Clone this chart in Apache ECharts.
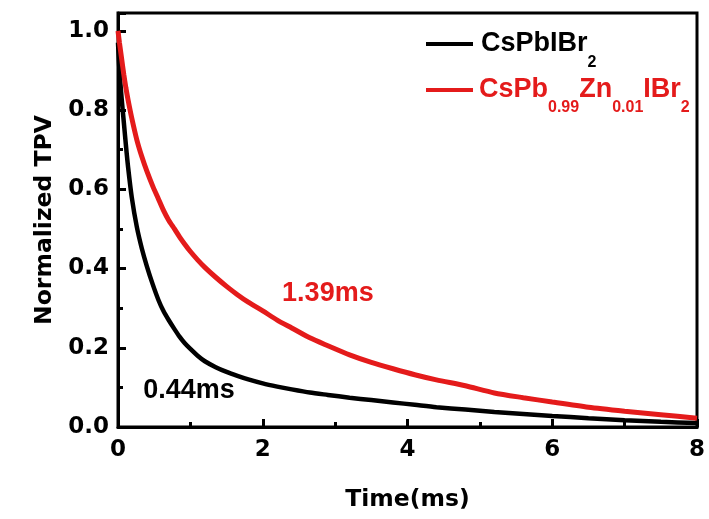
<!DOCTYPE html>
<html>
<head>
<meta charset="utf-8">
<script src="https://cdn.jsdelivr.net/npm/echarts@6/dist/echarts.min.js"></script>
<style>
  html, body { margin: 0; padding: 0; background: #fff; }
  #chart { width: 709px; height: 519px; }
</style>
</head>
<body>
<div id="chart"></div>
<script>
// Transient photovoltage decay, normalized
const timeMs = [0, 0.02, 0.05, 0.08, 0.11, 0.14, 0.19, 0.26, 0.33, 0.4, 0.48, 0.56, 0.63, 0.7, 0.78, 0.85, 0.92, 1.0, 1.1, 1.2, 1.35, 1.5, 1.65, 1.8, 2.0, 2.2, 2.4, 2.65, 2.9, 3.2, 3.5, 3.8, 4.1, 4.4, 4.8, 5.2, 5.6, 6.0, 6.5, 7.0, 7.5, 8.0];
const tpvPristine = [0.97, 0.9, 0.83, 0.77, 0.71, 0.655, 0.58, 0.505, 0.45, 0.405, 0.36, 0.32, 0.292, 0.27, 0.247, 0.228, 0.212, 0.197, 0.18, 0.166, 0.151, 0.139, 0.129, 0.12, 0.11, 0.102, 0.095, 0.087, 0.081, 0.074, 0.068, 0.062, 0.056, 0.05, 0.044, 0.038, 0.033, 0.028, 0.022, 0.017, 0.013, 0.01];
const tpvZnDoped = [1.0, 0.97, 0.93, 0.89, 0.855, 0.825, 0.78, 0.725, 0.682, 0.645, 0.608, 0.575, 0.546, 0.522, 0.5, 0.48, 0.462, 0.443, 0.422, 0.403, 0.378, 0.355, 0.334, 0.315, 0.293, 0.27, 0.25, 0.225, 0.205, 0.182, 0.163, 0.147, 0.132, 0.119, 0.104, 0.086, 0.074, 0.063, 0.05, 0.04, 0.031, 0.022];

const seriesNames = ['CsPbIBr2', 'CsPb0.99Zn0.01IBr2'];
const lifetimeLabels = ['0.44ms', '1.39ms'];
const lifetimeAnchors = [[0.98, 0.091], [2.9, 0.337]];
const xTicks = [0, 2, 4, 6, 8];
const yTicks = [0.0, 0.2, 0.4, 0.6, 0.8, 1.0];

const RED = '#e41b1b';
const tickFont = { fontFamily: 'DejaVu Sans', fontWeight: 'bold', fontSize: 23, color: '#000' };
const nameFont = { fontFamily: 'DejaVu Sans', fontWeight: 'bold', fontSize: 23.5, color: '#000' };
const labelFamily = 'Liberation Sans, Arial, sans-serif';

function pairs(ys) { return timeMs.map((t, i) => [t, ys[i]]); }

const chart = echarts.init(document.getElementById('chart'), null, { renderer: 'canvas' });

chart.setOption({
  backgroundColor: '#fff',
  animation: false,
  grid: {
    left: 118, right: 12, top: 13, bottom: 92,
    show: true, borderColor: '#000', borderWidth: 3,
    outerBoundsMode: 'none'
  },
  legend: {
    orient: 'vertical',
    left: 421, top: 24,
    itemGap: 4,
    icon: 'rect',
    itemWidth: 47, itemHeight: 4,
    data: seriesNames,
    formatter: function (name) {
      if (name === seriesNames[0]) return '{k|CsPbIBr}{ks|2}';
      return '{r0|CsPb}{rs|0.99}{r|Zn}{rs|0.01}{r|IBr}{rs|2}';
    },
    textStyle: {
      rich: {
        k: { fontFamily: labelFamily, fontWeight: 'bold', fontSize: 27, color: '#000', lineHeight: 30, padding: [0, 0, 0, 3] },
        ks: { fontFamily: labelFamily, fontWeight: 'bold', fontSize: 16, color: '#000', lineHeight: 30, verticalAlign: 'top', padding: [26, 0, 0, 0] },
        r0: { fontFamily: labelFamily, fontWeight: 'bold', fontSize: 27, color: RED, lineHeight: 30, padding: [0, 0, 0, 1] },
        r: { fontFamily: labelFamily, fontWeight: 'bold', fontSize: 27, color: RED, lineHeight: 30 },
        rs: { fontFamily: labelFamily, fontWeight: 'bold', fontSize: 16, color: RED, lineHeight: 30, verticalAlign: 'top', padding: [25, 0, 0, 0] }
      }
    }
  },
  xAxis: {
    type: 'value',
    min: xTicks[0], max: xTicks[xTicks.length - 1], interval: 2,
    name: 'Time(ms)', nameLocation: 'middle', nameGap: 61, nameTextStyle: nameFont,
    axisLine: { lineStyle: { color: '#000', width: 3 } },
    axisTick: { inside: true, length: 8, lineStyle: { color: '#000', width: 3 } },
    minorTick: { show: true, splitNumber: 2, length: 5, lineStyle: { color: '#000', width: 3 } },
    axisLabel: Object.assign({ margin: 12, formatter: v => String(v) }, tickFont),
    splitLine: { show: false }
  },
  yAxis: {
    type: 'value',
    min: 0, max: 1.045, interval: 0.2,
    name: 'Normalized TPV', nameLocation: 'middle', nameGap: 56, nameTextStyle: nameFont,
    axisLine: { show: true, lineStyle: { color: '#000', width: 3 } },
    axisTick: { show: true, inside: true, length: 8, lineStyle: { color: '#000', width: 3 } },
    minorTick: { show: true, splitNumber: 2, length: 5, lineStyle: { color: '#000', width: 3 } },
    axisLabel: Object.assign({
      margin: 9, showMaxLabel: false,
      formatter: v => yTicks.some(t => Math.abs(t - v) < 1e-6) ? v.toFixed(1) : ''
    }, tickFont),
    splitLine: { show: false }
  },
  series: [
    {
      name: seriesNames[0], type: 'line', data: pairs(tpvPristine),
      showSymbol: false, symbol: 'none', smooth: 0.25,
      lineStyle: { color: '#000', width: 4.5 }, itemStyle: { color: '#000' },
      z: 3,
      markPoint: {
        symbol: 'circle', symbolSize: 0, silent: true,
        label: { show: true, position: 'inside', formatter: lifetimeLabels[0], fontFamily: labelFamily, fontWeight: 'bold', fontSize: 27, color: '#000' },
        data: [{ coord: lifetimeAnchors[0] }]
      }
    },
    {
      name: seriesNames[1], type: 'line', data: pairs(tpvZnDoped),
      showSymbol: false, symbol: 'none', smooth: 0.25,
      lineStyle: { color: RED, width: 5 }, itemStyle: { color: RED },
      z: 4,
      markPoint: {
        symbol: 'circle', symbolSize: 0, silent: true,
        label: { show: true, position: 'inside', formatter: lifetimeLabels[1], fontFamily: labelFamily, fontWeight: 'bold', fontSize: 27, color: RED },
        data: [{ coord: lifetimeAnchors[1] }]
      }
    }
  ]
});
</script>
</body>
</html>
